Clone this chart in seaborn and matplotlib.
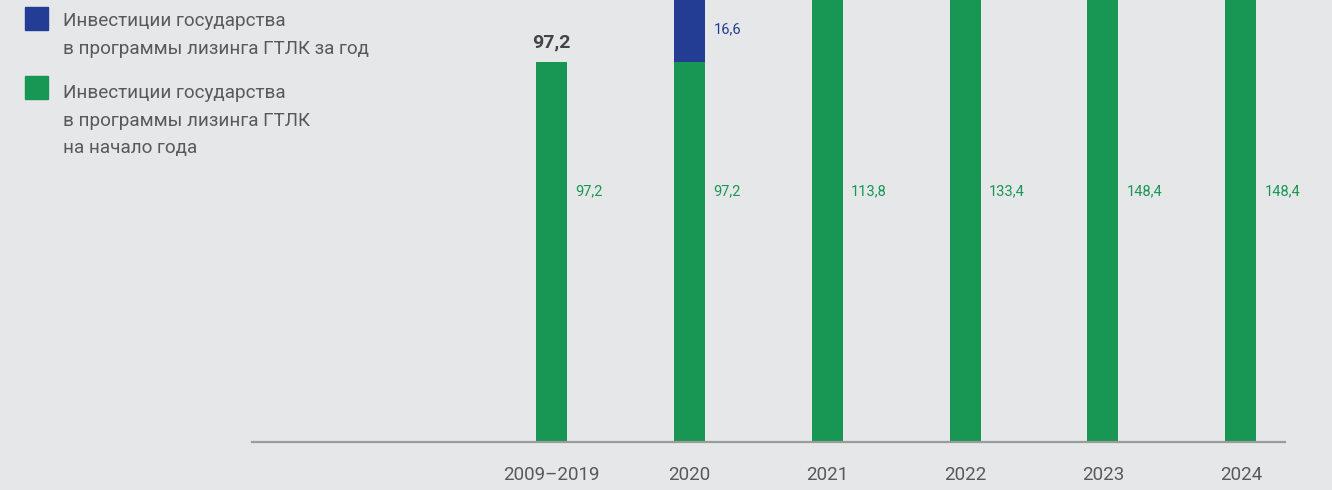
import matplotlib
matplotlib.use("Agg")
import matplotlib.pyplot as plt
import matplotlib.patches as mpatches
import seaborn as sns
import pandas as pd

years = ["2009–2019", "2020", "2021", "2022", "2023", "2024"]
start_of_year = [97.2, 97.2, 113.8, 133.4, 148.4, 148.4]
for_year = [0.0, 16.6, 19.6, 15.0, 0.0, 0.0]
start_labels = ["97,2", "97,2", "113,8", "133,4", "148,4", "148,4"]

green = "#179753"
blue = "#233d94"
bg = "#e6e7e9"
grey_text = "#58595b"

df = pd.DataFrame({"year": years, "start": start_of_year, "added": for_year})
df["total"] = df["start"] + df["added"]

sns.set_theme(style="white")
plt.rcParams["font.family"] = ["Roboto", "DejaVu Sans"]

fig = plt.figure(figsize=(13.32, 4.9), dpi=100, facecolor=bg)
ax = fig.add_axes([252 / 1332, 48 / 490, (1285 - 252) / 1332, 442 / 490])
ax.set_facecolor(bg)

# stacked bars: total in blue, start-of-year in green on top of it
sns.barplot(data=df, x="year", y="total", order=years, color=blue,
            width=0.225, saturation=1, linewidth=0, ax=ax)
sns.barplot(data=df, x="year", y="start", order=years, color=green,
            width=0.225, saturation=1, linewidth=0, ax=ax)

ymax = 113.05
ax.set_xlim(-2.17, 5.32)
ax.set_ylim(0, ymax)
ax.set_xlabel("")
ax.set_ylabel("")
ax.set_yticks([])
for s in ["top", "left", "right"]:
    ax.spines[s].set_visible(False)
ax.spines["bottom"].set_color("#9b9b9b")
ax.spines["bottom"].set_linewidth(1.6)
ax.tick_params(axis="x", length=0, pad=17, labelsize=13.5, labelcolor=grey_text)

# value labels (only those that fall inside the visible area)
for i, lab in enumerate(start_labels):
    ax.text(i + 0.175, 64.2, lab, color=green, fontsize=10.5,
            ha="left", va="center")
for i, v in enumerate(for_year):
    mid = start_of_year[i] + v / 2
    if v > 0 and mid < ymax:
        ax.text(i + 0.175, mid, f"{v:.1f}".replace(".", ","),
                color=blue, fontsize=10.5, ha="left", va="center", clip_on=False)
ax.text(0, df["total"][0] + 2.8, "97,2", color="#444444", fontsize=14,
        fontweight="bold", ha="center", va="bottom")

# legend drawn by hand
W, H = 1332, 490
for y0, col in [(7, blue), (76, green)]:
    fig.patches.append(mpatches.Rectangle((25 / W, 1 - (y0 + 23) / H), 23 / W, 23 / H,
                                          transform=fig.transFigure, color=col))
fig.text(63 / W, 1 - 12 / H,
         "Инвестиции государства\nв программы лизинга ГТЛК за год",
         color=grey_text, fontsize=13.6, va="top", ha="left", linespacing=1.72)
fig.text(63 / W, 1 - 84 / H,
         "Инвестиции государства\nв программы лизинга ГТЛК\nна начало года",
         color=grey_text, fontsize=13.6, va="top", ha="left", linespacing=1.68)

fig.savefig("out.png", dpi=100, facecolor=bg)
